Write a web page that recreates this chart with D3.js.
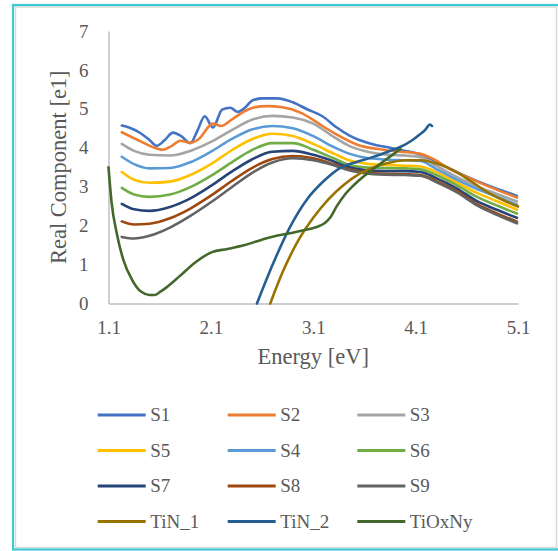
<!DOCTYPE html>
<html>
<head>
<meta charset="utf-8">
<script src="https://cdn.jsdelivr.net/npm/d3@7"></script>
<style>
  html, body { margin: 0; padding: 0; background: #ffffff; }
  svg { display: block; }
  text { font-family: "Liberation Serif", "DejaVu Serif", "Times New Roman", serif; fill: #595959; }
</style>
</head>
<body>
<svg id="chart" width="558" height="551"></svg>
<script>
// ---- data -------------------------------------------------------------
const xTicks = [1.1, 2.1, 3.1, 4.1, 5.1];
const yTicks = [0, 1, 2, 3, 4, 5, 6, 7];

const seriesNames = ["S1", "S2", "S3", "S5", "S4", "S6", "S7", "S8", "S9", "TiN_1", "TiN_2", "TiOxNy"];
const seriesColors = ["#4472C4", "#ED7D31", "#A5A5A5", "#FFC000", "#5B9BD5", "#70AD47",
                      "#264478", "#9E480E", "#636363", "#997300", "#255E91", "#43682B"];

const s1Energy = [1.23, 1.30, 1.41, 1.50, 1.57, 1.65, 1.73, 1.81, 1.90, 1.97, 2.04, 2.12, 2.21, 2.29, 2.36, 2.42, 2.51, 2.60, 2.75, 2.90, 3.04, 3.19, 3.33, 3.45, 3.55, 3.70, 3.85, 4.00, 4.14, 4.28, 4.41, 4.60, 4.80, 5.05, 5.09];
const s1Values = [4.57, 4.52, 4.38, 4.20, 4.05, 4.20, 4.39, 4.30, 4.12, 4.45, 4.81, 4.52, 4.98, 5.03, 4.92, 5.00, 5.22, 5.27, 5.27, 5.17, 4.99, 4.81, 4.52, 4.32, 4.20, 4.08, 4.00, 3.92, 3.83, 3.68, 3.49, 3.26, 3.04, 2.80, 2.76];

const s2Energy = [1.23, 1.41, 1.55, 1.63, 1.72, 1.80, 1.90, 1.98, 2.12, 2.20, 2.30, 2.38, 2.51, 2.65, 2.80, 2.97, 3.08, 3.19, 3.33, 3.53, 3.78, 3.95, 4.14, 4.28, 4.41, 4.73, 5.09];
const s2Values = [4.40, 4.17, 4.00, 3.95, 4.05, 4.18, 4.13, 4.22, 4.62, 4.56, 4.72, 4.86, 5.03, 5.07, 5.04, 4.91, 4.75, 4.56, 4.34, 4.08, 3.95, 3.90, 3.85, 3.70, 3.49, 3.10, 2.72];

// shared energy grid for the smoother sample curves
const sEnergy = [1.23, 1.35, 1.5, 1.7, 1.9, 2.1, 2.3, 2.5, 2.7, 2.9, 3.1, 3.3, 3.45, 3.6, 3.8, 4.0, 4.15, 4.3, 4.5, 4.7, 4.9, 5.09];
const s3Values = [4.10, 3.92, 3.82, 3.80, 3.92, 4.15, 4.45, 4.72, 4.82, 4.78, 4.62, 4.28, 4.05, 3.92, 3.83, 3.80, 3.76, 3.54, 3.25, 3.01, 2.81, 2.62];
const s5Values = [3.38, 3.18, 3.10, 3.13, 3.30, 3.58, 3.93, 4.22, 4.36, 4.30, 4.10, 3.85, 3.68, 3.60, 3.56, 3.54, 3.52, 3.38, 3.11, 2.84, 2.62, 2.41];
const s4Values = [3.77, 3.58, 3.47, 3.48, 3.63, 3.90, 4.22, 4.47, 4.56, 4.50, 4.30, 4.02, 3.85, 3.75, 3.70, 3.68, 3.66, 3.46, 3.18, 2.94, 2.74, 2.54];
const s6Values = [2.97, 2.80, 2.74, 2.80, 2.99, 3.28, 3.62, 3.94, 4.12, 4.12, 3.95, 3.73, 3.56, 3.50, 3.48, 3.47, 3.45, 3.30, 3.04, 2.74, 2.51, 2.31];
const s7Values = [2.56, 2.42, 2.38, 2.48, 2.70, 3.02, 3.38, 3.70, 3.90, 3.92, 3.82, 3.65, 3.50, 3.43, 3.40, 3.40, 3.38, 3.22, 2.96, 2.63, 2.40, 2.20];
const s8Values = [2.11, 2.03, 2.05, 2.19, 2.44, 2.77, 3.14, 3.48, 3.71, 3.79, 3.73, 3.58, 3.45, 3.38, 3.33, 3.32, 3.30, 3.15, 2.89, 2.55, 2.31, 2.10];
const s9Values = [1.71, 1.67, 1.74, 1.95, 2.25, 2.60, 2.98, 3.35, 3.62, 3.73, 3.68, 3.55, 3.42, 3.35, 3.31, 3.30, 3.28, 3.12, 2.86, 2.52, 2.27, 2.06];

const tin1Energy = [2.68, 2.80, 2.95, 3.10, 3.25, 3.40, 3.55, 3.70, 3.85, 4.00, 4.15, 4.30, 4.47, 4.63, 4.80, 5.10];
const tin1Values = [0.00, 0.80, 1.60, 2.20, 2.68, 3.05, 3.33, 3.51, 3.62, 3.68, 3.68, 3.60, 3.42, 3.16, 2.86, 2.49];

const tin2Energy = [2.55, 2.71, 2.87, 3.04, 3.20, 3.36, 3.53, 3.68, 3.85, 3.95, 4.07, 4.14, 4.19, 4.24, 4.26];
const tin2Values = [0.00, 1.04, 1.95, 2.68, 3.14, 3.48, 3.64, 3.76, 3.92, 4.02, 4.20, 4.34, 4.45, 4.60, 4.56];

const tioxEnergy = [1.10, 1.13, 1.18, 1.245, 1.33, 1.42, 1.50, 1.55, 1.60, 1.67, 1.79, 1.95, 2.11, 2.26, 2.43, 2.60, 2.74, 2.90, 3.04, 3.14, 3.21, 3.27, 3.33, 3.41, 3.50, 3.60, 3.70, 3.80, 3.88, 3.95];
const tioxValues = [3.50, 2.60, 1.81, 1.12, 0.61, 0.30, 0.22, 0.22, 0.29, 0.42, 0.69, 1.06, 1.32, 1.40, 1.50, 1.64, 1.74, 1.82, 1.90, 1.97, 2.06, 2.22, 2.50, 2.80, 3.05, 3.28, 3.48, 3.68, 3.83, 3.97];

// ---- assemble series -------------------------------------------------
const zip = (es, vs) => es.map((e, i) => ({ e: e, v: vs[i] }));
const seriesPoints = [
  zip(s1Energy, s1Values),
  zip(s2Energy, s2Values),
  zip(sEnergy, s3Values),
  zip(sEnergy, s5Values),
  zip(sEnergy, s4Values),
  zip(sEnergy, s6Values),
  zip(sEnergy, s7Values),
  zip(sEnergy, s8Values),
  zip(sEnergy, s9Values),
  zip(tin1Energy, tin1Values),
  zip(tin2Energy, tin2Values),
  zip(tioxEnergy, tioxValues)
];
const series = seriesNames.map((name, i) => ({ name: name, color: seriesColors[i], points: seriesPoints[i] }));

// ---- layout ----------------------------------------------------------
const svg = d3.select("#chart");
const serifFont = '"Liberation Serif", "DejaVu Serif", "Times New Roman", serif';

// outer frame
svg.append("rect")
  .attr("x", 15.5).attr("y", 7).attr("width", 541).attr("height", 540.5)
  .attr("fill", "none").attr("stroke", "#d9d9d9").attr("stroke-width", 1.5);
svg.append("rect")
  .attr("x", 13).attr("y", 5).attr("width", 600).attr("height", 544.5)
  .attr("fill", "none").attr("stroke", "#3ccbd2").attr("stroke-width", 2.2);

const x = d3.scaleLinear().domain([1.1, 5.1]).range([108.5, 518]);
const y = d3.scaleLinear().domain([0, 7]).range([303.5, 31]);

// axes
const gx = svg.append("g")
  .attr("transform", `translate(0,${y(0)})`)
  .call(d3.axisBottom(x).tickValues(xTicks).tickFormat(d3.format(".1f")).tickSize(0).tickPadding(17));
const gy = svg.append("g")
  .attr("transform", `translate(${x(1.1)},0)`)
  .call(d3.axisLeft(y).tickValues(yTicks).tickFormat(d3.format("d")).tickSize(0).tickPadding(20));

[gx, gy].forEach(g => {
  g.attr("font-family", serifFont);
  g.select(".domain").attr("stroke", "#bfbfbf").attr("stroke-width", 1.5);
  g.selectAll(".tick text")
    .attr("fill", "#595959")
    .style("font-family", serifFont)
    .style("font-size", "19px");
});

// axis titles
svg.append("text")
  .attr("x", (x(1.1) + x(5.1)) / 2).attr("y", 364)
  .attr("text-anchor", "middle")
  .style("font-family", serifFont)
  .style("font-size", "22.5px")
  .text("Energy [eV]");
svg.append("text")
  .attr("transform", `translate(66,${(y(0) + y(7)) / 2}) rotate(-90)`)
  .attr("text-anchor", "middle")
  .style("font-family", serifFont)
  .style("font-size", "22.5px")
  .text("Real Component [e1]");

// series lines
const line = d3.line()
  .x(d => x(d.e))
  .y(d => y(d.v))
  .curve(d3.curveMonotoneX);

svg.append("g")
  .selectAll("path")
  .data(series)
  .join("path")
  .attr("d", d => line(d.points))
  .attr("fill", "none")
  .attr("stroke", d => d.color)
  .attr("stroke-width", 2.6)
  .attr("stroke-linejoin", "round")
  .attr("stroke-linecap", "round");

// legend
const legendCols = [97.7, 227.7, 357.3];
const legendRowY = 415, legendRowStep = 35.5;
const legend = svg.append("g")
  .selectAll("g")
  .data(series)
  .join("g")
  .attr("transform", (d, i) => `translate(${legendCols[i % 3]},${legendRowY + Math.floor(i / 3) * legendRowStep})`);
legend.append("line")
  .attr("x1", 0).attr("x2", 48).attr("y1", 0).attr("y2", 0)
  .attr("stroke", d => d.color).attr("stroke-width", 3);
legend.append("text")
  .attr("x", 52.5).attr("dy", "0.33em")
  .style("font-family", serifFont)
  .style("font-size", "19px")
  .text(d => d.name);
</script>
</body>
</html>
